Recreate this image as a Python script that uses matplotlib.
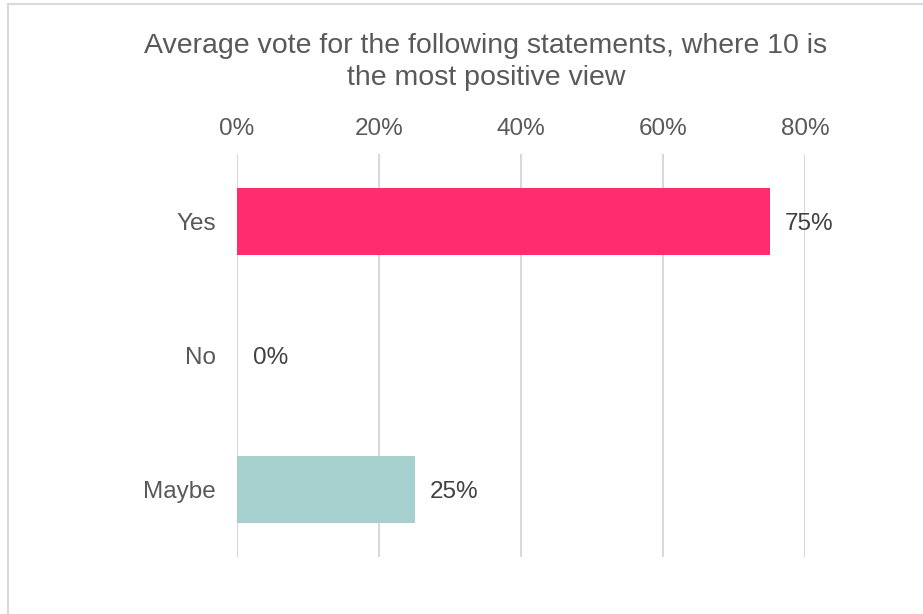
import matplotlib.pyplot as plt
from matplotlib.patches import Rectangle
from matplotlib.ticker import PercentFormatter

categories = ['Yes', 'No', 'Maybe']
values = [0.75, 0.0, 0.25]
colors = ['#FF2D6E', '#FF2D6E', '#A6D0CD']
ticks = [0, 0.2, 0.4, 0.6, 0.8]

plt.rcParams['font.family'] = ['Liberation Sans', 'DejaVu Sans']

fig = plt.figure(figsize=(9.23, 6.14), dpi=100)
W, H = 923, 614
ax = fig.add_axes([237 / W, 1 - 557 / H, (805 - 237) / W, (557 - 154) / H])

# light frame around the chart area
fig.patches.append(Rectangle((8 / W, -0.1), 1.2, 1 - 4 / H + 0.1,
                             transform=fig.transFigure, fill=False,
                             edgecolor='#D9D9D9', linewidth=1.5))

y = range(len(categories))
ax.barh(y, values, height=0.5, color=colors, zorder=3)
for yi, v in zip(y, values):
    ax.text(v + 0.022, yi, f'{v:.0%}', va='center_baseline', ha='left',
            fontsize=17.5, color='#404040', zorder=4)

ax.set_xlim(0, 0.8)
ax.set_ylim(2.5, -0.5)
ax.set_xticks(ticks)
ax.xaxis.set_major_formatter(PercentFormatter(1.0, decimals=0))
ax.xaxis.tick_top()
ax.set_yticks(list(y))
ax.set_yticklabels(categories)
ax.tick_params(axis='both', length=0, labelsize=17.5, labelcolor='#595959')
ax.tick_params(axis='x', pad=10)
ax.tick_params(axis='y', pad=15)
ax.grid(axis='x', color='#D9D9D9', linewidth=1.5, zorder=0)
for s in ax.spines.values():
    s.set_visible(False)

fig.text(486 / W, 1 - 62 / H,
         'Average vote for the following statements, where 10 is\nthe most positive view',
         ha='center', va='center', fontsize=20.5, color='#595959',
         linespacing=1.33)

fig.savefig('out.png', dpi=100)
